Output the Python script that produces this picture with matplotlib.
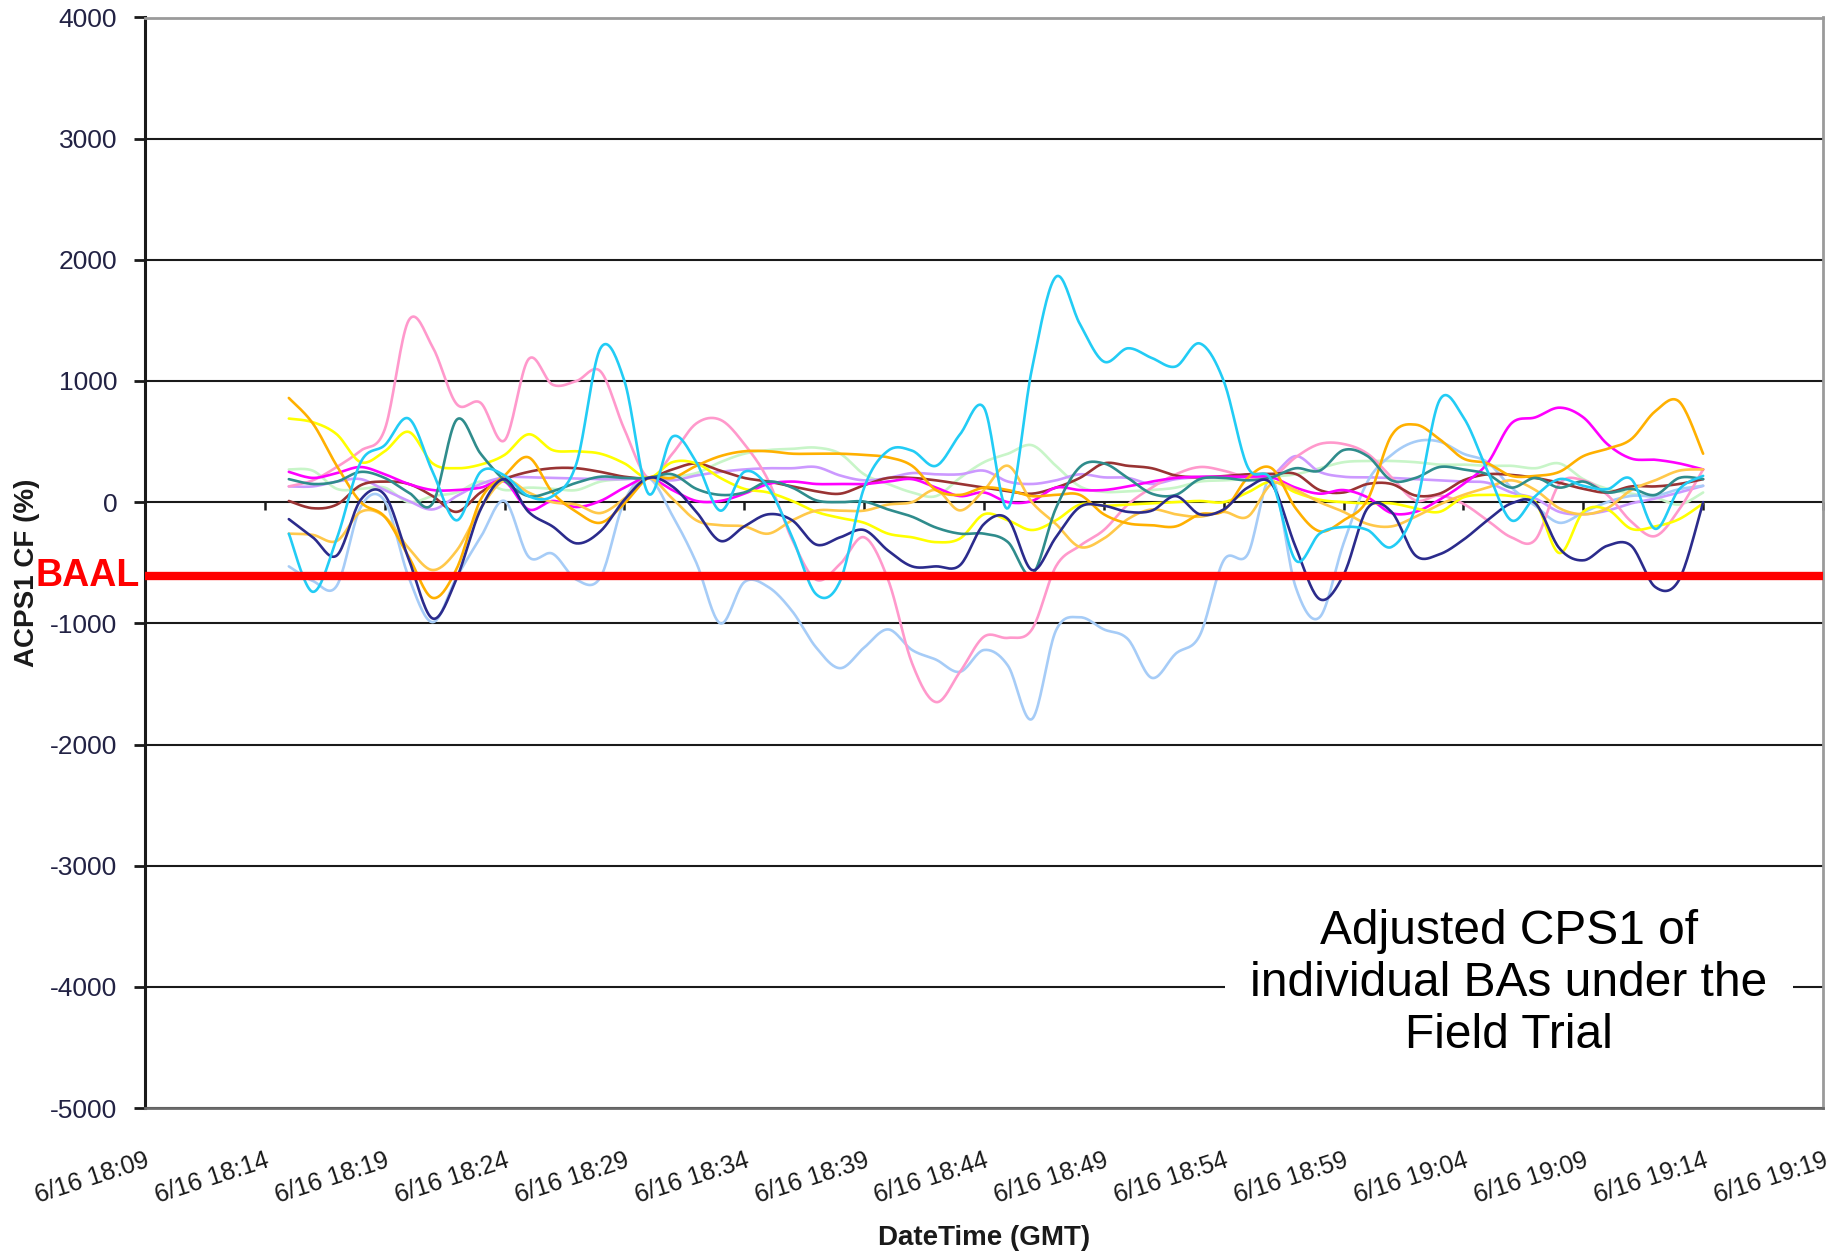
import numpy as np
import matplotlib
matplotlib.use("Agg")
import matplotlib.pyplot as plt
import matplotlib.dates as mdates
import matplotlib.transforms as mtransforms
from datetime import datetime, timedelta

plt.rcParams['font.family'] = ['Liberation Sans', 'DejaVu Sans']
plt.rcParams['axes.unicode_minus'] = False

# ---------------- data ----------------
start_time = datetime(2009, 6, 16, 18, 15)
n_points = 60
times = [start_time + timedelta(minutes=k) for k in range(n_points)]

x_min = datetime(2009, 6, 16, 18, 9)
x_max = datetime(2009, 6, 16, 19, 19)
tick_step_min = 5

y_ticks = [4000, 3000, 2000, 1000, 0, -1000, -2000, -3000, -4000, -5000]
baal_value = -610

pink = [130, 180, 290, 425, 600, 1500, 1280, 810, 820, 510,
        1180, 970, 1000, 1080, 600, 200, 400, 650, 680, 480,
        180, -310, -640, -510, -290, -640, -1330, -1650, -1400, -1110,
        -1120, -1050, -530, -360, -230, -20, 120, 230, 290, 260,
        205, 205, 370, 480, 480, 400, 205, 14, 55, -14,
        -150, -290, -310, 150, 180, 60, -160, -280, -60, 270]
cyan = [-260, -740, -300, 330, 470, 690, 250, -150, 250, 220,
        50, 50, 320, 1270, 1000, 70, 540, 330, -70, 250,
        120, -290, -760, -650, 120, 425, 425, 300, 560, 780,
        -50, 1100, 1860, 1470, 1160, 1270, 1190, 1120, 1310, 1000,
        290, 180, -480, -260, -205, -230, -370, -40, 840, 700,
        260, -150, 50, 190, 135, 107, 190, -220, 107, 217]
light_blue = [-530, -650, -690, -40, 10, -620, -990, -620, -290, 10,
              -450, -425, -640, -620, 10, 200, -110, -500, -1000, -660,
              -700, -900, -1200, -1370, -1200, -1050, -1220, -1300, -1400, -1220,
              -1350, -1790, -1060, -950, -1050, -1130, -1450, -1250, -1100, -480,
              -430, 200, -700, -950, -340, 170, 390, 500, 500, 400,
              330, 120, -30, -170, -85, 0, 52, 52, 107, 135]
navy = [-140, -290, -440, 20, 60, -470, -960, -630, -60, 190,
        -80, -200, -340, -240, 20, 200, 130, -80, -320, -200,
        -100, -150, -350, -290, -230, -400, -530, -530, -520, -180,
        -140, -560, -290, -40, -30, -80, -70, 50, -100, -60,
        120, 150, -370, -800, -600, -50, -80, -440, -430, -310,
        -150, -10, -10, -380, -480, -360, -360, -700, -640, 0]
teal = [190, 150, 170, 250, 200, 80, -10, 680, 400, 180,
        50, 90, 160, 210, 200, 200, 230, 110, 60, 80,
        170, 120, 15, 0, 5, -60, -120, -210, -260, -260,
        -330, -600, -50, 290, 320, 200, 70, 60, 190, 200,
        180, 205, 280, 260, 430, 380, 180, 200, 290, 270,
        230, 120, 200, 120, 170, 80, 110, 60, 200, 190]
yellow = [690, 660, 560, 330, 420, 580, 320, 280, 310, 390,
          560, 430, 420, 400, 320, 200, 330, 320, 200, 110,
          80, 10, -80, -130, -170, -260, -290, -330, -300, -100,
          -150, -230, -150, -20, -30, -20, -10, 0, 10, 0,
          80, 170, 80, 20, 0, -10, -10, -50, -80, 40,
          60, 50, 0, -420, -80, -60, -220, -200, -140, -10]
orange_a = [860, 650, 300, 0, -120, -450, -790, -550, 20, 220,
            370, 80, -80, -170, -10, 200, 200, 300, 380, 420,
            420, 400, 400, 400, 390, 370, 300, 100, 60, 120,
            100, 50, 60, 60, -100, -175, -190, -200, -100, -70,
            200, 280, -50, -240, -150, 20, 550, 640, 520, 360,
            320, 217, 217, 250, 380, 440, 520, 750, 830, 400]
orange_b = [-260, -270, -320, -80, -120, -380, -560, -400, -50, 180,
            80, 0, -20, -90, 30, 200, 30, -150, -190, -200,
            -260, -150, -70, -70, -70, -20, 0, 100, -68, 100,
            300, 0, -180, -370, -300, -140, -60, -100, -120, -80,
            -120, 150, 100, 0, -80, -180, -200, -120, -20, 60,
            120, 180, 100, -50, -100, -50, 100, 180, 260, 270]
magenta = [250, 200, 240, 290, 230, 150, 100, 100, 120, 170,
           -60, 10, -40, 10, 120, 200, 100, 10, 10, 70,
           150, 170, 150, 150, 150, 170, 190, 120, 50, 80,
           0, 10, 120, 100, 100, 130, 170, 200, 210, 210,
           210, 205, 120, 70, 100, 40, -90, -80, 20, 150,
           320, 650, 700, 780, 700, 480, 360, 350, 320, 270]
maroon = [10, -50, -20, 140, 170, 150, 50, -80, 80, 190,
          250, 280, 280, 250, 210, 200, 270, 320, 260, 200,
          170, 130, 90, 70, 140, 200, 200, 180, 150, 120,
          90, 70, 120, 200, 320, 300, 280, 220, 205, 215,
          230, 233, 233, 100, 80, 150, 150, 55, 70, 180,
          230, 225, 200, 160, 110, 80, 130, 130, 150, 190]
lavender = [130, 130, 170, 190, 100, 10, -60, 50, 150, 205,
            205, 200, 195, 190, 190, 200, 180, 220, 250, 270,
            280, 280, 290, 220, 180, 200, 240, 230, 230, 260,
            170, 150, 180, 230, 205, 200, 150, 190, 205, 205,
            205, 220, 380, 250, 210, 205, 200, 190, 180, 170,
            160, 80, 30, -80, -100, -70, -10, 30, 80, 135]
light_green = [270, 260, 110, 110, 120, 0, 50, 80, 170, 100,
               120, 110, 100, 170, 190, 200, 210, 240, 330, 400,
               430, 440, 450, 400, 230, 150, 80, 50, 200, 330,
               400, 470, 300, 130, 85, 90, 100, 120, 170, 180,
               190, 210, 230, 280, 330, 340, 340, 330, 310, 310,
               300, 300, 280, 320, 190, 110, 70, 40, -20, 80]

series = [
    (light_green, '#C8F5C8'),
    (lavender, '#CC99FF'),
    (light_blue, '#A6CCF7'),
    (pink, '#FF99CC'),
    (maroon, '#993333'),
    (magenta, '#FF00FF'),
    (yellow, '#FFFF00'),
    (orange_b, '#FFC84A'),
    (orange_a, '#FFB000'),
    (teal, '#2F8C8C'),
    (navy, '#2B2B8C'),
    (cyan, '#22CCF5'),
]


def excel_smooth(x, y, n=20):
    """Bezier smoothing similar to a spreadsheet 'smoothed line'."""
    P = np.column_stack([np.asarray(x, float), np.asarray(y, float)])
    ext = np.vstack([P[0], P, P[-1]])
    t = np.linspace(0, 1, n, endpoint=False)[:, None]
    segs = []
    for k in range(len(P) - 1):
        p0, p1, p2, p3 = ext[k], ext[k + 1], ext[k + 2], ext[k + 3]
        b1 = p1 + (p2 - p0) / 6.0
        b2 = p2 - (p3 - p1) / 6.0
        segs.append((1 - t) ** 3 * p1 + 3 * (1 - t) ** 2 * t * b1
                    + 3 * (1 - t) * t ** 2 * b2 + t ** 3 * p2)
    segs.append(P[-1][None, :])
    pts = np.vstack(segs)
    return pts[:, 0], pts[:, 1]


# ---------------- figure ----------------
W, H = 1844, 1254
fig = plt.figure(figsize=(W / 100, H / 100), dpi=100)
left, right, top, bottom = 145, 1823, 17.5, 1108
ax = fig.add_axes([left / W, 1 - bottom / H, (right - left) / W, (bottom - top) / H])

xnum = mdates.date2num(times)
for vals, col in series:
    sx, sy = excel_smooth(xnum, vals)
    ax.plot(sx, sy, color=col, lw=1.9, solid_capstyle='round', zorder=3)

ax.axhline(baal_value, color='#FF0000', lw=6, zorder=4)

ax.set_xlim(mdates.date2num(x_min), mdates.date2num(x_max))
ax.set_ylim(min(y_ticks), max(y_ticks))
ax.set_yticks(y_ticks)
ax.yaxis.grid(True, color='#1a1a1a', lw=1.5, zorder=1)
ax.set_axisbelow(True)

xt = []
cur = x_min
while cur <= x_max:
    xt.append(mdates.date2num(cur))
    cur += timedelta(minutes=tick_step_min)
ax.set_xticks(xt)


def fmt(v, pos=None):
    d = mdates.num2date(v)
    return f"{d.month}/{d.day} {d:%H:%M}"


ax.xaxis.set_major_formatter(plt.FuncFormatter(fmt))
ax.tick_params(axis='x', length=0, pad=29, labelsize=18, colors='#1a1a1a')
for lab in ax.get_xticklabels():
    lab.set_rotation(18)
    lab.set_ha('right')
    lab.set_va('top')
    lab.set_rotation_mode('anchor')

ax.tick_params(axis='y', direction='out', length=8, width=2, labelsize=19,
               colors='#1a1a1a', labelcolor='#222244', pad=12)

for s in ['top', 'right']:
    ax.spines[s].set_color('#9a9a9a')
    ax.spines[s].set_linewidth(2)
ax.spines['bottom'].set_color('#6a6a6a')
ax.spines['bottom'].set_linewidth(2)
ax.spines['left'].set_color('#1a1a1a')
ax.spines['left'].set_linewidth(2.2)

# tick marks on the zero line
zero_frac = (0 - min(y_ticks)) / (max(y_ticks) - min(y_ticks))
sec = ax.secondary_xaxis(zero_frac)
sec.set_xticks(xt)
sec.tick_params(direction='in', length=6, width=1.8, color='#1a1a1a',
                labeltop=False, labelbottom=False)
for s in sec.spines.values():
    s.set_visible(False)

ax.set_xlabel('DateTime (GMT)', fontsize=20, fontweight='bold', color='#1a1a1a')
ax.xaxis.set_label_coords(0.5, -(1238 - bottom) / (bottom - top))
ax.xaxis.label.set_va('center')

ax.set_ylabel('ACPS1 CF (%)', fontsize=20, fontweight='bold', color='#1a1a1a')
ax.yaxis.set_label_coords((40 - left) / (right - left), (bottom - 573) / (bottom - top))

blend = mtransforms.blended_transform_factory(ax.transAxes, ax.transData)
ax.text(-0.003, baal_value, 'BAAL', transform=blend, ha='right', va='center',
        fontsize=27, fontweight='bold', color='#FF0000', zorder=5, clip_on=False)

ax.text((1509 - left) / (right - left), -3970,
        'Adjusted CPS1 of\nindividual BAs under the\nField Trial',
        transform=blend, ha='center', va='center', fontsize=34.5, color='black',
        linespacing=1.2, zorder=6,
        bbox=dict(facecolor='white', edgecolor='none', pad=18))

fig.savefig('out.png', dpi=100)
